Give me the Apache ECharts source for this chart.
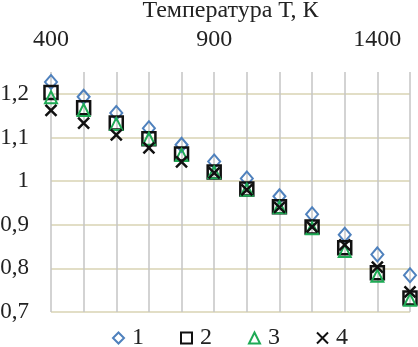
<!DOCTYPE html>
<html><head><meta charset="utf-8">
<script src="https://cdn.jsdelivr.net/npm/echarts@6/dist/echarts.min.js"></script>
<style>html,body{margin:0;padding:0;background:#fff}#c{width:418px;height:347px}</style>
</head><body><div id="c"></div>
<script>
var temps = [400,500,600,700,800,900,1000,1100,1200,1300,1400,1500];
var s1 = [1.227,1.193,1.156,1.121,1.083,1.045,1.006,0.965,0.924,0.877,0.832,0.784];
var s2 = [1.203,1.168,1.133,1.097,1.062,1.021,0.982,0.941,0.895,0.847,0.790,0.732];
var s3 = [1.192,1.163,1.131,1.097,1.060,1.020,0.980,0.940,0.892,0.840,0.783,0.728];
var s4 = [1.162,1.133,1.106,1.076,1.044,1.019,0.980,0.940,0.895,0.854,0.803,0.746];
var names = ['1','2','3','4'];
var xLabels = [400,900,1400];
var yLabels = [0.7,0.8,0.9,1.0,1.1,1.2];

function pairs(a){return temps.map(function(t,i){return [t,a[i]];});}
var font = '"Liberation Serif","Times New Roman",serif';
var chart = echarts.init(document.getElementById('c'));
var xSym = 'path://M0,0L10,10M10,0L0,10';
function ser(name,data,symbol,size,color,bw){
  return {name:name,type:'scatter',data:pairs(data),symbol:symbol,symbolSize:size,
    itemStyle:{color:'transparent',borderColor:color,borderWidth:bw,opacity:1},
    emphasis:{disabled:true}};
}
chart.setOption({
  animation:false,
  grid:{left:51,right:8,top:72,bottom:35,outerBoundsMode:'none',containLabel:false},
  xAxis:{type:'value',position:'top',min:400,max:1500,interval:100,
    name:'Температура Т, К',nameLocation:'middle',nameGap:46,
    nameTextStyle:{fontFamily:font,fontSize:24,color:'#222'},
    axisLine:{show:false},axisTick:{show:false},
    axisLabel:{margin:20,fontFamily:font,fontSize:24,color:'#222',
      formatter:function(v){return xLabels.indexOf(v)>=0?String(v):'';}},
    splitLine:{show:true,lineStyle:{color:'#c4c4c4',width:1.5}}},
  yAxis:{type:'value',min:0.7,max:1.25,interval:0.1,
    axisLine:{show:false},axisTick:{show:false},
    axisLabel:{margin:22,fontFamily:font,fontSize:23,color:'#222',
      formatter:function(v){var r=Math.round(v*10)/10;
        if(Math.abs(r-v)>1e-6||yLabels.indexOf(r)<0)return '';
        return String(r).replace('.',',');}},
    splitLine:{show:true,lineStyle:{color:['#d8d3b3','#d8d3b3','#d8d3b3','#d8d3b3','#d8d3b3','#d8d3b3','transparent'],width:1.5}}},
  legend:{top:326,left:112,padding:0,itemGap:36,itemWidth:11,itemHeight:11,
    textStyle:{fontFamily:font,fontSize:24,color:'#222',padding:[0,0,0,3]},
    data:names},
  series:[
    ser(names[0],s1,'diamond',[12,14],'#4f81bd',2),
    ser(names[1],s2,'rect',13,'#111',2.5),
    ser(names[2],s3,'triangle',12,'#1faa55',2),
    ser(names[3],s4,xSym,11,'#111',2.5)
  ]
});
</script></body></html>
